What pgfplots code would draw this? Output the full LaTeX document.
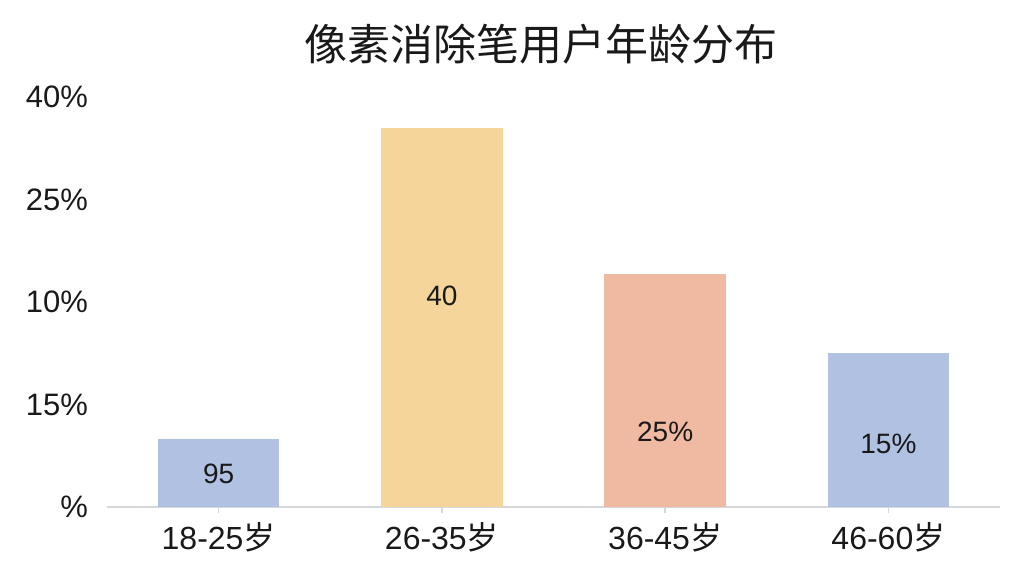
\documentclass[border=0pt]{standalone}
\usepackage{pgfplots}
\pgfplotsset{compat=1.18}
\usepackage{pgfplotstable}
\usepackage{fontspec}
\setmainfont{Liberation Sans}
\newfontfamily\cjk{Noto Sans CJK SC}

\definecolor{barblue}{RGB}{176,193,226}
\definecolor{barorange}{RGB}{246,213,154}
\definecolor{barsalmon}{RGB}{239,185,162}
\definecolor{axgray}{RGB}{212,215,220}
\definecolor{txt}{RGB}{25,25,25}

% label position (ly) is where the text sits inside each bar
\pgfplotstableread{
x  y     ly    label
0  6.6   3.2   95
1  37.0  20.6  40
2  22.7  7.3   25\%
3  15.0  6.2   15\%
}\agedata

\begin{document}
\begin{tikzpicture}
\begin{axis}[
    scale only axis,
    width=446.5pt, height=205pt,
    xmin=-0.5, xmax=3.5,
    ymin=0, ymax=40,
    axis x line*=bottom,
    axis y line*=left,
    x axis line style={draw=axgray, line width=0.7pt},
    y axis line style={draw=none},
    xtick={0,1,2,3},
    xticklabels={18-25{\cjk 岁},26-35{\cjk 岁},36-45{\cjk 岁},46-60{\cjk 岁}},
    xtick align=outside,
    x tick style={draw=axgray, line width=0.7pt},
    major tick length=3pt,
    ytick={0,10,20,30,40},
    yticklabels={\%,15\%,10\%,25\%,40\%},
    y tick style={draw=none},
    xticklabel style={font=\fontsize{16}{18}\selectfont, text=txt, yshift=-1pt},
    yticklabel style={font=\fontsize{15.5}{18}\selectfont, text=txt, anchor=east, xshift=-6pt},
    title={\cjk 像素消除笔用户年龄分布},
    title style={font=\fontsize{21.5}{25}\selectfont, text=txt, xshift=-6.5pt, yshift=7pt},
    clip=false,
]
\addplot[ybar, bar width=0.545, bar shift=0pt, fill=barblue, draw=none]
    table[x=x, y=y, restrict expr to domain={\thisrow{x}}{0:0}] {\agedata};
\addplot[ybar, bar width=0.545, bar shift=0pt, fill=barorange, draw=none]
    table[x=x, y=y, restrict expr to domain={\thisrow{x}}{1:1}] {\agedata};
\addplot[ybar, bar width=0.545, bar shift=0pt, fill=barsalmon, draw=none]
    table[x=x, y=y, restrict expr to domain={\thisrow{x}}{2:2}] {\agedata};
\addplot[ybar, bar width=0.545, bar shift=0pt, fill=barblue, draw=none]
    table[x=x, y=y, restrict expr to domain={\thisrow{x}}{3:3}] {\agedata};
% value labels
\addplot[draw=none, mark=none, nodes near coords, point meta=explicit symbolic,
    nodes near coords align=center,
    every node near coord/.append style={font=\fontsize{14}{16}\selectfont, text=txt}]
    table[x=x, y=ly, meta=label] {\agedata};
\end{axis}
\path ([shift={(-53.5pt,-34.5pt)}]current axis.south west)
    rectangle ([shift={(12pt,48.5pt)}]current axis.north east);
\end{tikzpicture}
\end{document}
